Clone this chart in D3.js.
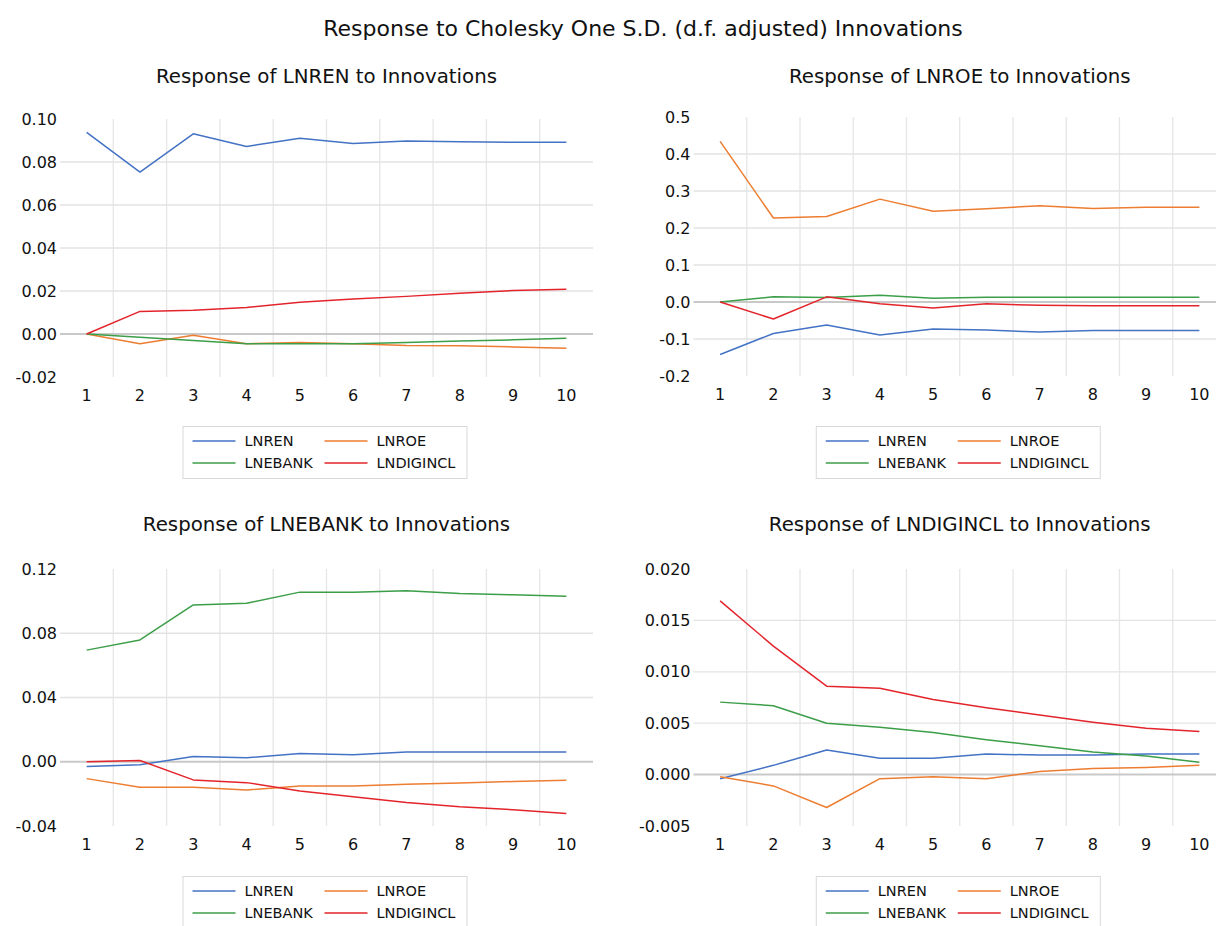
<!DOCTYPE html>
<html><head><meta charset="utf-8">
<script src="https://cdn.jsdelivr.net/npm/d3@7"></script>
<style>
body{margin:0;background:#fff}
svg{display:block}
text{font-family:"DejaVu Sans",Lato,sans-serif;fill:#111}
</style>
</head><body>
<svg id="chart" width="1216" height="926"></svg>
<script>
// ---------- DATA ----------
const mainTitle = "Response to Cholesky One S.D. (d.f. adjusted) Innovations";
const periods = [1, 2, 3, 4, 5, 6, 7, 8, 9, 10];
const seriesNames = ["LNREN", "LNROE", "LNEBANK", "LNDIGINCL"];
const seriesColors = ["#4472C4", "#ED7D31", "#3C9E48", "#E3242B"];
const panelTitles = [
  "Response of LNREN to Innovations",
  "Response of LNROE to Innovations",
  "Response of LNEBANK to Innovations",
  "Response of LNDIGINCL to Innovations"
];

// Response of LNREN
const renToLNREN     = [0.0938, 0.0753, 0.0931, 0.0872, 0.0911, 0.0886, 0.0898, 0.0894, 0.0892, 0.0892];
const renToLNROE     = [0.0000, -0.0045, -0.0006, -0.0045, -0.0040, -0.0045, -0.0053, -0.0055, -0.0060, -0.0066];
const renToLNEBANK   = [0.0000, -0.0015, -0.0030, -0.0045, -0.0045, -0.0045, -0.0040, -0.0033, -0.0027, -0.0020];
const renToLNDIGINCL = [0.0000, 0.0105, 0.0110, 0.0123, 0.0148, 0.0163, 0.0175, 0.0189, 0.0202, 0.0208];
const renTicks  = [-0.02, 0.00, 0.02, 0.04, 0.06, 0.08, 0.10];
const renLabels = ["-0.02", "0.00", "0.02", "0.04", "0.06", "0.08", "0.10"];

// Response of LNROE
const roeToLNREN     = [-0.142, -0.085, -0.062, -0.089, -0.073, -0.076, -0.081, -0.077, -0.077, -0.077];
const roeToLNROE     = [0.434, 0.227, 0.231, 0.278, 0.245, 0.252, 0.260, 0.253, 0.256, 0.256];
const roeToLNEBANK   = [0.000, 0.014, 0.012, 0.018, 0.010, 0.013, 0.013, 0.013, 0.013, 0.013];
const roeToLNDIGINCL = [0.000, -0.046, 0.014, -0.005, -0.016, -0.005, -0.009, -0.010, -0.010, -0.010];
const roeTicks  = [-0.2, -0.1, 0.0, 0.1, 0.2, 0.3, 0.4, 0.5];
const roeLabels = ["-0.2", "-0.1", "0.0", "0.1", "0.2", "0.3", "0.4", "0.5"];

// Response of LNEBANK
const ebankToLNREN     = [-0.0029, -0.0019, 0.0033, 0.0025, 0.0052, 0.0044, 0.0061, 0.0061, 0.0061, 0.0061];
const ebankToLNROE     = [-0.0105, -0.0159, -0.0159, -0.0176, -0.0151, -0.0151, -0.0140, -0.0132, -0.0123, -0.0115];
const ebankToLNEBANK   = [0.0695, 0.0758, 0.0976, 0.0987, 0.1056, 0.1056, 0.1064, 0.1047, 0.1039, 0.1031];
const ebankToLNDIGINCL = [0.0000, 0.0008, -0.0113, -0.0130, -0.0182, -0.0218, -0.0253, -0.0280, -0.0299, -0.0322];
const ebankTicks  = [-0.04, 0.00, 0.04, 0.08, 0.12];
const ebankLabels = ["-0.04", "0.00", "0.04", "0.08", "0.12"];

// Response of LNDIGINCL
const digToLNREN     = [-0.0004, 0.0009, 0.0024, 0.0016, 0.0016, 0.0020, 0.0019, 0.0019, 0.0020, 0.0020];
const digToLNROE     = [-0.0002, -0.0011, -0.0032, -0.0004, -0.0002, -0.0004, 0.0003, 0.0006, 0.0007, 0.0009];
const digToLNEBANK   = [0.00705, 0.0067, 0.0050, 0.0046, 0.0041, 0.0034, 0.0028, 0.0022, 0.0018, 0.0012];
const digToLNDIGINCL = [0.0169, 0.0125, 0.0086, 0.0084, 0.0073, 0.0065, 0.0058, 0.0051, 0.0045, 0.0042];
const digTicks  = [-0.005, 0.000, 0.005, 0.010, 0.015, 0.020];
const digLabels = ["-0.005", "0.000", "0.005", "0.010", "0.015", "0.020"];

// ---------- PANELS (data references + layout) ----------
const panels = [
  {title: panelTitles[0], series: [renToLNREN, renToLNROE, renToLNEBANK, renToLNDIGINCL],
   ticks: renTicks, labels: renLabels,
   box: {left: 60, right: 593, top: 119, bottom: 377}, titleY: 76, legendTop: 426},
  {title: panelTitles[1], series: [roeToLNREN, roeToLNROE, roeToLNEBANK, roeToLNDIGINCL],
   ticks: roeTicks, labels: roeLabels,
   box: {left: 693.5, right: 1226, top: 117, bottom: 376}, titleY: 76, legendTop: 426},
  {title: panelTitles[2], series: [ebankToLNREN, ebankToLNROE, ebankToLNEBANK, ebankToLNDIGINCL],
   ticks: ebankTicks, labels: ebankLabels,
   box: {left: 60, right: 593, top: 569, bottom: 826}, titleY: 524, legendTop: 876},
  {title: panelTitles[3], series: [digToLNREN, digToLNROE, digToLNEBANK, digToLNDIGINCL],
   ticks: digTicks, labels: digLabels,
   box: {left: 693.5, right: 1226, top: 569, bottom: 826}, titleY: 524, legendTop: 876}
];

const svg = d3.select("#chart");

svg.append("text")
  .attr("x", 643).attr("y", 28)
  .attr("text-anchor", "middle").attr("dominant-baseline", "central")
  .style("font-size", "22px")
  .text(mainTitle);

panels.forEach(p => {
  const b = p.box;
  const g = svg.append("g");
  const x = d3.scaleBand().domain(periods).range([b.left, b.right]).padding(0);
  const xc = d => x(d) + x.bandwidth() / 2;
  const y = d3.scaleLinear().domain(d3.extent(p.ticks)).range([b.bottom, b.top]);

  // vertical gridlines between categories
  g.selectAll(".vg").data(periods.slice(1)).enter().append("line")
    .attr("x1", d => x(d)).attr("x2", d => x(d))
    .attr("y1", b.top).attr("y2", b.bottom)
    .attr("stroke", "#e6e6e6").attr("stroke-width", 1.3);

  // horizontal gridlines (interior ticks)
  const inner = p.ticks.slice(1, -1);
  g.selectAll(".hg").data(inner).enter().append("line")
    .attr("x1", b.left).attr("x2", b.right)
    .attr("y1", d => y(d)).attr("y2", d => y(d))
    .attr("stroke", d => d === 0 ? "#c9c9c9" : "#e3e3e3")
    .attr("stroke-width", d => d === 0 ? 2 : 1.3);

  // y tick labels
  g.selectAll(".yl").data(p.ticks).enter().append("text")
    .attr("x", b.left - 3).attr("y", d => y(d))
    .attr("text-anchor", "end").attr("dominant-baseline", "central")
    .style("font-size", "16px")
    .text((d, i) => p.labels[i]);

  // x tick labels
  g.selectAll(".xl").data(periods).enter().append("text")
    .attr("x", d => xc(d)).attr("y", b.bottom + 18)
    .attr("text-anchor", "middle").attr("dominant-baseline", "central")
    .style("font-size", "16px")
    .text(d => d);

  // series lines
  const line = d3.line().x((d, i) => xc(periods[i])).y(d => y(d));
  p.series.forEach((vals, si) => {
    g.append("path").datum(vals)
      .attr("fill", "none")
      .attr("stroke", seriesColors[si])
      .attr("stroke-width", 1.5)
      .attr("stroke-linejoin", "round")
      .attr("d", line);
  });

  // panel title
  const cx = (b.left + b.right) / 2;
  g.append("text")
    .attr("x", cx).attr("y", p.titleY)
    .attr("text-anchor", "middle").attr("dominant-baseline", "central")
    .style("font-size", "19.8px")
    .text(p.title);

  // legend
  const lw = 284, lh = 52;
  const lx = cx - 2 - lw / 2, ly = p.legendTop;
  const lg = g.append("g").attr("transform", `translate(${lx},${ly})`);
  lg.append("rect").attr("x", 0.5).attr("y", 0.5).attr("width", lw).attr("height", lh)
    .attr("fill", "#fff").attr("stroke", "#d9d9d9").attr("stroke-width", 1);
  const colX = [10, 142], rowY = [15, 37];
  seriesNames.forEach((name, i) => {
    const cxl = colX[i % 2], cyl = rowY[Math.floor(i / 2)];
    lg.append("line").attr("x1", cxl).attr("x2", cxl + 43)
      .attr("y1", cyl).attr("y2", cyl)
      .attr("stroke", seriesColors[i]).attr("stroke-width", 1.5);
    lg.append("text").attr("x", cxl + 52).attr("y", cyl)
      .attr("dominant-baseline", "central")
      .style("font-size", "14.5px")
      .text(name);
  });
});
</script>
</body></html>
